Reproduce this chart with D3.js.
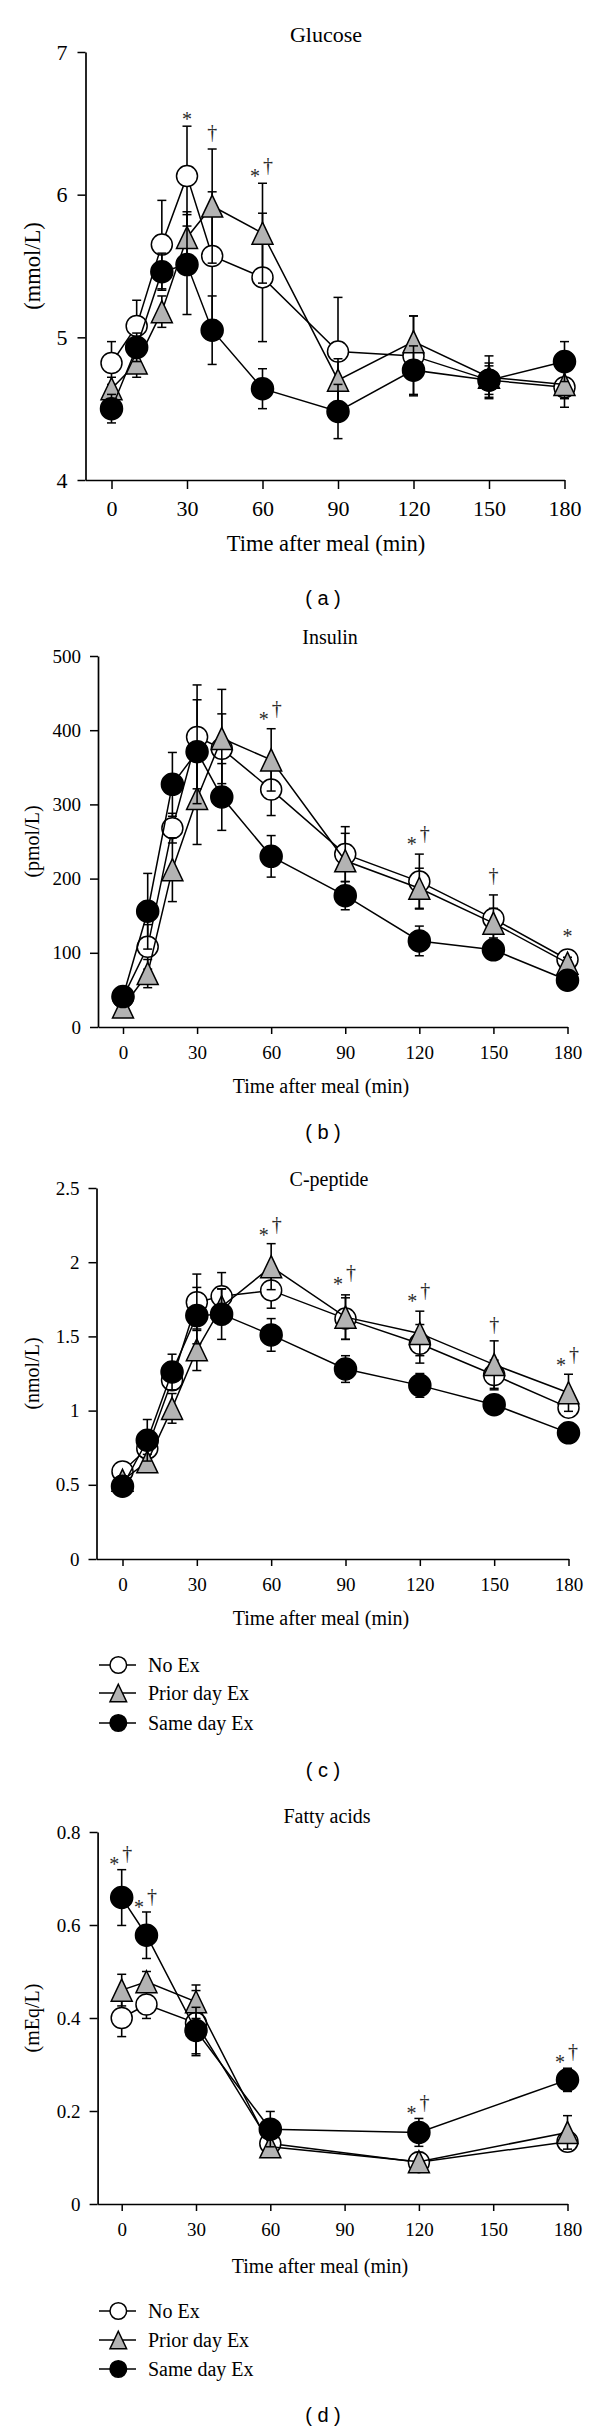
<!DOCTYPE html>
<html><head><meta charset="utf-8">
<script src="https://cdn.jsdelivr.net/npm/d3@7"></script>
<style>body{margin:0;background:#fff}svg{display:block}</style>
</head><body>
<svg id="chart" width="600" height="2431"></svg>
<script>
// ---------- data ----------
const seriesNames = ["No Ex", "Prior day Ex", "Same day Ex"];
const timesMain = [0, 10, 20, 30, 40, 60, 90, 120, 150, 180];
const timesFA = [0, 10, 30, 60, 120, 180];
const xTickValues = [0, 30, 60, 90, 120, 150, 180];

const glucoseNoEx    = [4.82, 5.08, 5.65, 6.13, 5.57, 5.42, 4.90, 4.87, 4.70, 4.65];
const glucoseNoExSE  = [0.15, 0.18, 0.31, 0.35, 0.45, 0.45, 0.38, 0.28, 0.12, 0.14];
const glucosePrior   = [4.64, 4.82, 5.18, 5.70, 5.92, 5.73, 4.70, 4.97, 4.72, 4.67];
const glucosePriorSE = [0.08, 0.10, 0.11, 0.18, 0.40, 0.35, 0.15, 0.18, 0.15, 0.10];
const glucoseSame    = [4.50, 4.93, 5.46, 5.51, 5.05, 4.64, 4.48, 4.77, 4.70, 4.83];
const glucoseSameSE  = [0.10, 0.10, 0.13, 0.35, 0.24, 0.14, 0.19, 0.17, 0.10, 0.14];
const glucoseTicks = [4, 5, 6, 7];
const glucoseMarks = [["*", 30, 6.55], ["†", 40, 6.43], ["*†", 60, 6.20]];

const insulinNoEx    = [40, 108, 268, 391, 375, 320, 233, 196, 146, 91];
const insulinNoExSE  = [8, 30, 20, 70, 47, 35, 37, 37, 32, 8];
const insulinPrior   = [27, 72, 212, 308, 389, 360, 224, 187, 140, 86];
const insulinPriorSE = [5, 19, 43, 62, 66, 42, 37, 27, 20, 8];
const insulinSame    = [41, 156, 327, 371, 310, 230, 177, 116, 104, 63];
const insulinSameSE  = [8, 51, 43, 70, 45, 28, 19, 20, 12, 8];
const insulinTicks = [0, 100, 200, 300, 400, 500];
const insulinMarks = [["*†", 60, 428], ["*†", 120, 259], ["†", 150, 203], ["*", 180, 127]];

const cpepNoEx    = [0.59, 0.745, 1.205, 1.73, 1.77, 1.81, 1.62, 1.45, 1.24, 1.02];
const cpepNoExSE  = [0.03, 0.05, 0.05, 0.19, 0.16, 0.12, 0.14, 0.13, 0.10, 0.05];
const cpepPrior   = [0.53, 0.655, 1.015, 1.41, 1.70, 1.97, 1.63, 1.52, 1.31, 1.12];
const cpepPriorSE = [0.03, 0.05, 0.10, 0.14, 0.12, 0.155, 0.15, 0.15, 0.16, 0.125];
const cpepSame    = [0.49, 0.80, 1.26, 1.64, 1.65, 1.51, 1.28, 1.17, 1.04, 0.85];
const cpepSameSE  = [0.03, 0.14, 0.12, 0.19, 0.17, 0.11, 0.09, 0.08, 0.05, 0.03];
const cpepTicks = [0, 0.5, 1, 1.5, 2, 2.5];
const cpepTickLabels = ["0", "0.5", "1", "1.5", "2", "2.5"];
const cpepMarks = [["*†", 60, 2.25], ["*†", 90, 1.92], ["*†", 120, 1.80], ["†", 150, 1.57], ["*†", 180, 1.37]];

const faNoEx    = [0.40, 0.429, 0.389, 0.130, 0.090, 0.134];
const faNoExSE  = [0.04, 0.03, 0.07, 0.02, 0.01, 0.02];
const faPrior   = [0.46, 0.478, 0.435, 0.123, 0.091, 0.154];
const faPriorSE = [0.034, 0.022, 0.036, 0.02, 0.02, 0.036];
const faSame    = [0.659, 0.578, 0.373, 0.161, 0.154, 0.267];
const faSameSE  = [0.06, 0.05, 0.05, 0.038, 0.03, 0.025];
const faTicks = [0, 0.2, 0.4, 0.6, 0.8];
const faTickLabels = ["0", "0.2", "0.4", "0.6", "0.8"];
const faMarks = [["*†", 0, 0.752], ["*†", 10, 0.659], ["*†", 120, 0.216], ["*†", 180, 0.326]];

// ---------- drawing ----------
const svg = d3.select("#chart");
const SERIF = "'Liberation Serif', 'Times New Roman', serif";
const SANS = "'Liberation Sans', Arial, sans-serif";
const styles = [
  {shape: "circle", fill: "#ffffff"},
  {shape: "triangle", fill: "#b3b3b3"},
  {shape: "circle", fill: "#000000"}
];

function marker(g, shape, fill, cx, cy, r) {
  if (shape === "circle") {
    g.append("circle").attr("cx", cx).attr("cy", cy).attr("r", r)
      .attr("fill", fill).attr("stroke", "#000").attr("stroke-width", 1.5);
  } else {
    const h = r * 1.05;
    g.append("path").attr("d", `M${cx},${cy - h}L${cx + r},${cy + h}L${cx - r},${cy + h}Z`)
      .attr("fill", fill).attr("stroke", "#000").attr("stroke-width", 1.5).attr("stroke-linejoin", "miter");
  }
}

function drawPanel(p) {
  const g = svg.append("g");
  const xTmp = d3.scaleLinear().domain([0, 180]).range([p.x0, p.x180]);
  const xLeft = xTmp.invert(p.axisX);
  const x = d3.scaleLinear().domain([xLeft, 180]).range([p.axisX, p.x180]);
  const y = d3.scaleLinear().domain(p.yDomain).range([p.yBot, p.yTop]);

  // axes
  const yAxis = d3.axisLeft(y).tickValues(p.yTicks).tickSize(8).tickSizeOuter(0).tickPadding(p.yPad)
    .tickFormat((d, i) => p.yTickLabels ? p.yTickLabels[i] : String(d));
  const ya = g.append("g").attr("transform", `translate(${p.axisX},0)`).call(yAxis);
  const xAxis = d3.axisBottom(x).tickValues(xTickValues).tickSize(p.xTick).tickSizeOuter(0).tickPadding(p.xPad);
  const xa = g.append("g").attr("transform", `translate(0,${p.yBot})`).call(xAxis);
  [ya, xa].forEach(a => {
    a.select(".domain").attr("stroke", "#000").attr("stroke-width", 1.7);
    a.selectAll(".tick line").attr("stroke", "#000").attr("stroke-width", 1.5);
    a.selectAll(".tick text").attr("fill", "#000").attr("font-family", SERIF).attr("font-size", p.tickSize);
  });

  // title
  g.append("text").attr("x", p.titleX).attr("y", p.titleY).attr("text-anchor", "middle")
    .attr("dominant-baseline", "central").attr("font-family", SERIF).attr("font-size", p.titleSize).text(p.title);
  // y label
  g.append("text").attr("transform", `translate(32,${(p.yTop + p.yBot) / 2}) rotate(-90)`)
    .attr("text-anchor", "middle").attr("dominant-baseline", "central")
    .attr("font-family", SERIF).attr("font-size", p.ylabSize).text(p.ylabel);
  // x label
  g.append("text").attr("x", p.xTitleX).attr("y", p.xTitleY).attr("text-anchor", "middle")
    .attr("dominant-baseline", "central").attr("font-family", SERIF).attr("font-size", p.xTitleSize)
    .text("Time after meal (min)");
  // panel letter
  g.append("text").attr("x", 323).attr("y", p.letterY).attr("text-anchor", "middle")
    .attr("dominant-baseline", "central").attr("font-family", SANS).attr("font-size", 20)
    .attr("xml:space", "preserve").text(`( ${p.letter} )`);

  // series
  p.series.forEach((s, si) => {
    const sg = g.append("g");
    const st = styles[si];
    // error bars
    s.values.forEach((v, i) => {
      const cx = x(p.times[i]);
      const e = s.se[i];
      const y1 = y(v + e), y2 = y(v - e);
      sg.append("line").attr("x1", cx).attr("x2", cx).attr("y1", y1).attr("y2", y2)
        .attr("stroke", "#000").attr("stroke-width", 1.6);
      [y1, y2].forEach(yy => sg.append("line").attr("x1", cx - 4.5).attr("x2", cx + 4.5)
        .attr("y1", yy).attr("y2", yy).attr("stroke", "#000").attr("stroke-width", 1.5));
    });
    // line
    const line = d3.line().x((d, i) => x(p.times[i])).y(d => y(d));
    sg.append("path").attr("d", line(s.values)).attr("fill", "none")
      .attr("stroke", "#000").attr("stroke-width", 1.5);
    // markers
    s.values.forEach((v, i) => marker(sg, st.shape, st.fill, x(p.times[i]), y(v), si === 2 ? 11 : 10.5));
  });

  // significance marks (value = vertical centre of the glyph group)
  const fs = 20;
  p.marks.forEach(m => {
    const cx = x(m[1]), cy = y(m[2]);
    const base = {"font-family": SERIF, "font-size": fs, "fill": "#2a2a2a", "text-anchor": "middle"};
    const txt = (tx, ty, s) => {
      const t = g.append("text").attr("x", tx).attr("y", ty);
      Object.entries(base).forEach(([k, v]) => t.attr(k, v));
      t.text(s);
    };
    if (m[0] === "*†") {
      txt(cx - 7.5, cy + 6.5 + 0.5 * fs, "*");
      txt(cx + 5.5, cy + 0.27 * fs, "†");
    } else if (m[0] === "*") {
      txt(cx, cy + 0.5 * fs, "*");
    } else {
      txt(cx, cy + 0.27 * fs, "†");
    }
  });

  // legend
  if (p.legendY) {
    p.legendY.forEach((ly, si) => {
      const st = styles[si];
      g.append("line").attr("x1", 99).attr("x2", 136).attr("y1", ly).attr("y2", ly)
        .attr("stroke", "#000").attr("stroke-width", 1.5);
      marker(g, st.shape, st.fill, 118.3, ly, 8.3);
      g.append("text").attr("x", 148).attr("y", ly).attr("dominant-baseline", "central")
        .attr("font-family", SERIF).attr("font-size", 20).text(seriesNames[si]);
    });
  }
}

const panels = [
  {title: "Glucose", letter: "a", titleX: 326, titleY: 34, titleSize: 22, yTop: 52, yBot: 480, axisX: 85.5, x0: 111.5, x180: 564.5,
   yDomain: [4, 7], yTicks: glucoseTicks, ylabel: "(mmol/L)", ylabSize: 22.5, tickSize: 22, yPad: 10, xTick: 9, xPad: 11.5,
   xTitleX: 326, xTitleY: 543, xTitleSize: 22.5, letterY: 598, times: timesMain, marks: glucoseMarks,
   series: [{values: glucoseNoEx, se: glucoseNoExSE}, {values: glucosePrior, se: glucosePriorSE}, {values: glucoseSame, se: glucoseSameSE}]},
  {title: "Insulin", letter: "b", titleX: 330, titleY: 637, titleSize: 20, yTop: 656, yBot: 1027, axisX: 98, x0: 123, x180: 567.5,
   yDomain: [0, 500], yTicks: insulinTicks, ylabel: "(pmol/L)", ylabSize: 20, tickSize: 19, yPad: 9, xTick: 7, xPad: 12,
   xTitleX: 321, xTitleY: 1086, xTitleSize: 20, letterY: 1132, times: timesMain, marks: insulinMarks,
   series: [{values: insulinNoEx, se: insulinNoExSE}, {values: insulinPrior, se: insulinPriorSE}, {values: insulinSame, se: insulinSameSE}]},
  {title: "C-peptide", letter: "c", titleX: 329, titleY: 1179, titleSize: 20, yTop: 1188, yBot: 1559, axisX: 96.5, x0: 122.5, x180: 568.5,
   yDomain: [0, 2.5], yTicks: cpepTicks, yTickLabels: cpepTickLabels, ylabel: "(nmol/L)", ylabSize: 20, tickSize: 19, yPad: 9, xTick: 7, xPad: 12,
   xTitleX: 321, xTitleY: 1618, xTitleSize: 20, letterY: 1770, times: timesMain, marks: cpepMarks, legendY: [1665, 1693, 1723],
   series: [{values: cpepNoEx, se: cpepNoExSE}, {values: cpepPrior, se: cpepPriorSE}, {values: cpepSame, se: cpepSameSE}]},
  {title: "Fatty acids", letter: "d", titleX: 327, titleY: 1816, titleSize: 20, yTop: 1832, yBot: 2204, axisX: 97.6, x0: 121.7, x180: 567.5,
   yDomain: [0, 0.8], yTicks: faTicks, yTickLabels: faTickLabels, ylabel: "(mEq/L)", ylabSize: 20, tickSize: 19, yPad: 9, xTick: 7, xPad: 12,
   xTitleX: 320, xTitleY: 2266, xTitleSize: 20, letterY: 2415, times: timesFA, marks: faMarks, legendY: [2311, 2340, 2369],
   series: [{values: faNoEx, se: faNoExSE}, {values: faPrior, se: faPriorSE}, {values: faSame, se: faSameSE}]}
];

panels.forEach(drawPanel);
</script>
</body></html>
